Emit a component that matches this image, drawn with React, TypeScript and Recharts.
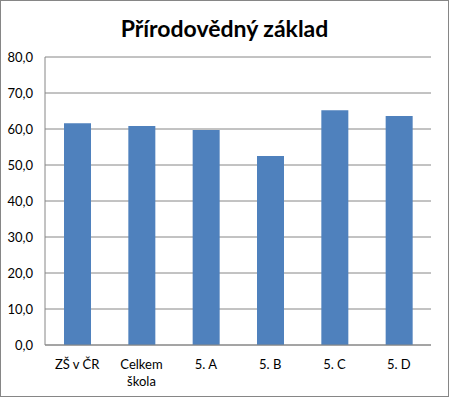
import { BarChart, Bar, XAxis, YAxis, CartesianGrid, Text } from "recharts";

const categories = ["ZŠ v ČR", "Celkem škola", "5. A", "5. B", "5. C", "5. D"];
const values = [61.6, 60.8, 59.7, 52.5, 65.2, 63.6];
const yTicks = [0, 10, 20, 30, 40, 50, 60, 70, 80];

const data = categories.map((name, i) => ({ name, value: values[i] }));

const FONT = "Lato, 'Open Sans', sans-serif";

// wrap long category names onto two lines like Excel does
function CategoryTick(props: any) {
  const { x, y, payload } = props;
  return (
    <Text
      x={x}
      y={y + 7}
      width={62}
      textAnchor="middle"
      verticalAnchor="start"
      fontSize={13}
      fontFamily={FONT}
      fill="#000"
      lineHeight={17}
    >
      {payload.value}
    </Text>
  );
}

export default function App() {
  return (
    <div style={{ position: "absolute", left: 0, top: 0, width: 449, height: 397, background: "#fff" }}>
      <div
        style={{
          position: "absolute",
          left: 0,
          top: 0,
          width: 447,
          height: 395,
          border: "1px solid #868686",
        }}
      />
      <div
        style={{
          position: "absolute",
          left: 0,
          top: 14,
          width: 449,
          textAlign: "center",
          fontFamily: FONT,
          fontWeight: "bold",
          fontSize: 23,
          color: "#000",
        }}
      >
        Přírodovědný základ
      </div>
      <BarChart
        width={449}
        height={397}
        data={data}
        margin={{ top: 57, right: 18, left: 0, bottom: 0 }}
        barSize={27}
      >
        <CartesianGrid vertical={false} stroke="#868686" />
        <XAxis
          dataKey="name"
          height={52}
          axisLine={{ stroke: "#868686" }}
          tickLine={false}
          interval={0}
          tick={<CategoryTick />}
        />
        <YAxis
          width={45}
          domain={[0, 80]}
          ticks={yTicks}
          axisLine={{ stroke: "#868686" }}
          tickLine={false}
          tickMargin={6}
          tickFormatter={(v: number) => v.toFixed(1).replace(".", ",")}
          tick={{ fontSize: 13, fontFamily: FONT, fill: "#000" }}
        />
        <Bar dataKey="value" fill="#4F81BD" isAnimationActive={false} />
      </BarChart>
    </div>
  );
}
